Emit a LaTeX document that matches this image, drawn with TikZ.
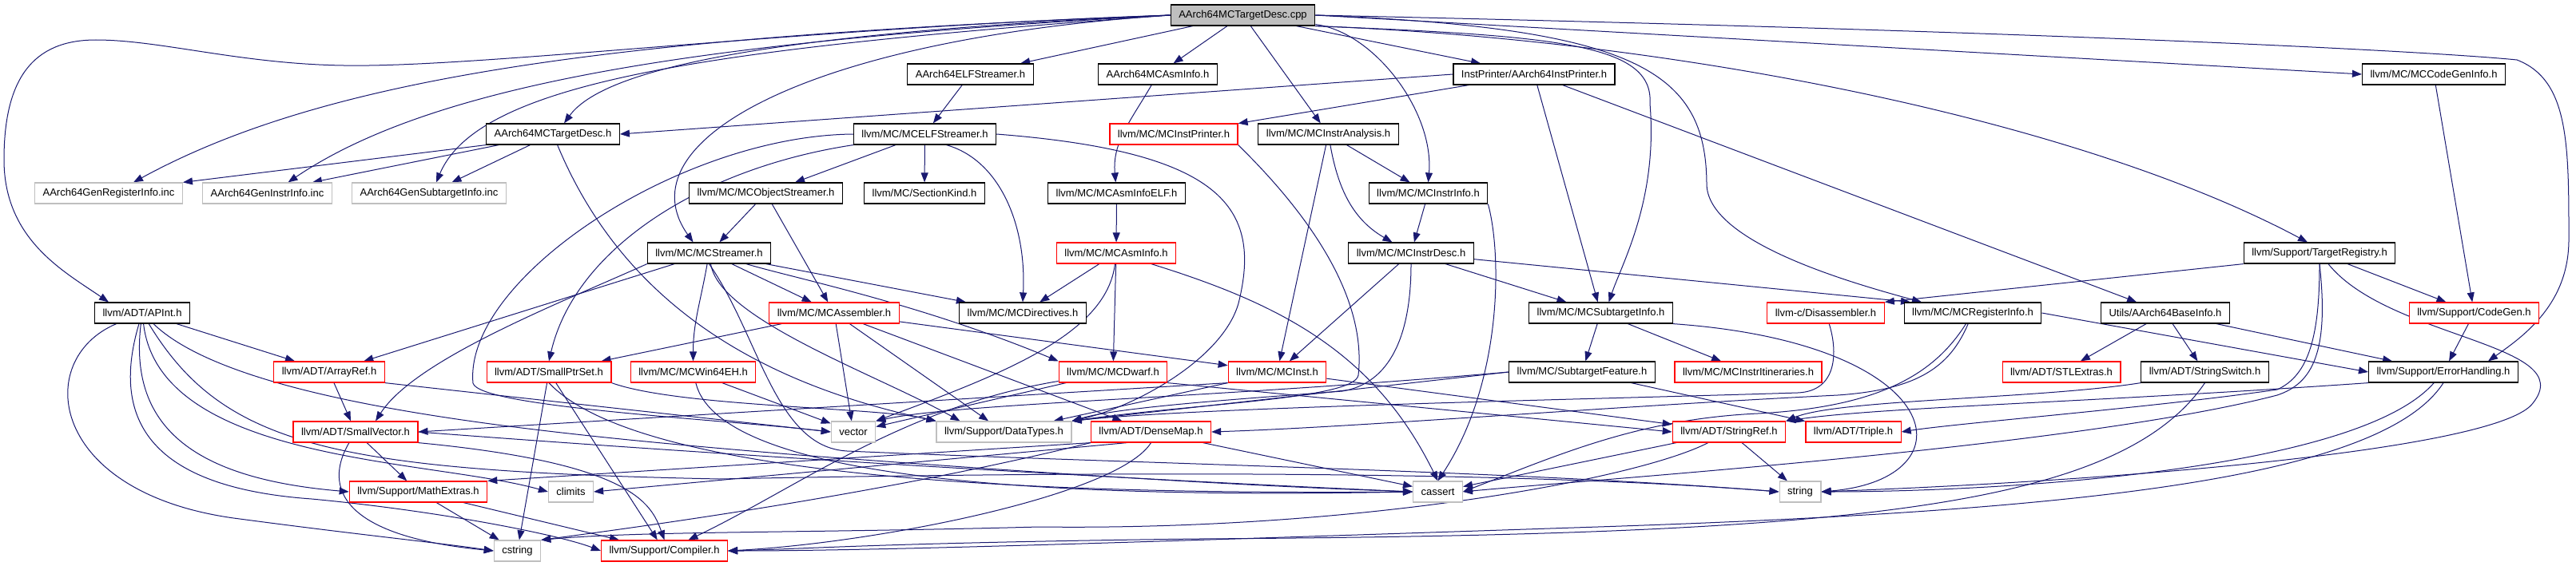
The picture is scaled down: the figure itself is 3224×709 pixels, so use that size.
\documentclass[tikz,border=0pt]{standalone}
\usepackage{fontspec}
\setmainfont{Liberation Sans}
\usepackage{xcolor}
\usepackage{tikz}
\usetikzlibrary{arrows.meta}
\definecolor{edgeblue}{HTML}{191970}
\pgfdeclarelayer{background}
\pgfsetlayers{background,main}

\begin{document}
\begin{tikzpicture}[
  x=1pt, y=-1pt,
  box/.style={draw, fill=white, line width=1.2pt, minimum height=26pt, inner xsep=10pt, inner ysep=0pt, font=\fontsize{13}{15}\selectfont},
  rootbox/.style={box, fill=gray!50},
  redbox/.style={box, draw=red},
  extbox/.style={box, draw=gray!50},
  dep/.style={draw=edgeblue, line width=1pt, -{Triangle[length=12pt,width=9pt]}}
]
  \useasboundingbox (0,0) rectangle (3224,709);

  \node[rootbox] (cpp) at (1555.5,19) {AArch64MCTargetDesc.cpp};
  \node[box] (elfstreamer) at (1214.5,93) {AArch64ELFStreamer.h};
  \node[box] (asminfo64) at (1449,93) {AArch64MCAsmInfo.h};
  \node[box] (instprinter64) at (1920,93) {InstPrinter/AArch64InstPrinter.h};
  \node[box] (codegeninfo) at (3046,93) {llvm/MC/MCCodeGenInfo.h};
  \node[box] (targetdesc) at (692,168) {AArch64MCTargetDesc.h};
  \node[box] (mcelf) at (1157.5,168) {llvm/MC/MCELFStreamer.h};
  \node[redbox] (instprinter) at (1469,168) {llvm/MC/MCInstPrinter.h};
  \node[box] (instranalysis) at (1662.5,168) {llvm/MC/MCInstrAnalysis.h};
  \node[extbox] (genreg) at (136,242) {AArch64GenRegisterInfo.inc};
  \node[extbox] (geninstr) at (334.5,242) {AArch64GenInstrInfo.inc};
  \node[extbox] (gensub) at (537,242) {AArch64GenSubtargetInfo.inc};
  \node[box] (objstreamer) at (958.5,242) {llvm/MC/MCObjectStreamer.h};
  \node[box] (sectionkind) at (1157,242) {llvm/MC/SectionKind.h};
  \node[box] (asminfoelf) at (1397.5,242) {llvm/MC/MCAsmInfoELF.h};
  \node[box] (instrinfo) at (1787.5,242) {llvm/MC/MCInstrInfo.h};
  \node[box] (streamer) at (887.5,317) {llvm/MC/MCStreamer.h};
  \node[redbox] (asminfo) at (1397,317) {llvm/MC/MCAsmInfo.h};
  \node[box] (instrdesc) at (1766,317) {llvm/MC/MCInstrDesc.h};
  \node[box] (targetreg) at (2903,317) {llvm/Support/TargetRegistry.h};
  \node[box] (apint) at (178,392) {llvm/ADT/APInt.h};
  \node[redbox] (assembler) at (1044,392) {llvm/MC/MCAssembler.h};
  \node[box] (directives) at (1280,392) {llvm/MC/MCDirectives.h};
  \node[box] (subtargetinfo) at (2003.5,392) {llvm/MC/MCSubtargetInfo.h};
  \node[redbox] (disassembler) at (2285,392) {llvm-c/Disassembler.h};
  \node[box] (reginfo) at (2469,392) {llvm/MC/MCRegisterInfo.h};
  \node[box] (baseinfo) at (2710,392) {Utils/AArch64BaseInfo.h};
  \node[redbox] (codegen) at (3096.5,392) {llvm/Support/CodeGen.h};
  \node[redbox] (arrayref) at (412,466) {llvm/ADT/ArrayRef.h};
  \node[redbox] (smallptrset) at (687,466) {llvm/ADT/SmallPtrSet.h};
  \node[redbox] (win64eh) at (867.5,466) {llvm/MC/MCWin64EH.h};
  \node[redbox] (dwarf) at (1393,466) {llvm/MC/MCDwarf.h};
  \node[redbox] (mcinst) at (1598.5,466) {llvm/MC/MCInst.h};
  \node[box] (subtargetfeature) at (1980,466) {llvm/MC/SubtargetFeature.h};
  \node[redbox] (itineraries) at (2188,466) {llvm/MC/MCInstrItineraries.h};
  \node[redbox] (stlextras) at (2580,466) {llvm/ADT/STLExtras.h};
  \node[box] (stringswitch) at (2759.5,466) {llvm/ADT/StringSwitch.h};
  \node[box] (errorhandling) at (3058,466) {llvm/Support/ErrorHandling.h};
  \node[redbox] (smallvector) at (445,541) {llvm/ADT/SmallVector.h};
  \node[extbox] (vector) at (1068,541) {vector};
  \node[extbox] (datatypes) at (1256.5,541) {llvm/Support/DataTypes.h};
  \node[redbox] (densemap) at (1440.5,541) {llvm/ADT/DenseMap.h};
  \node[redbox] (stringref) at (2164,541) {llvm/ADT/StringRef.h};
  \node[redbox] (triple) at (2319.5,541) {llvm/ADT/Triple.h};
  \node[redbox] (mathextras) at (523.5,616) {llvm/Support/MathExtras.h};
  \node[extbox] (climits) at (714.5,616) {climits};
  \node[extbox] (cassert) at (1799.5,616) {cassert};
  \node[extbox] (string) at (2253,616) {string};
  \node[extbox] (cstring) at (647.5,690) {cstring};
  \node[redbox] (compiler) at (831.5,690) {llvm/Support/Compiler.h};

  \begin{pgfonlayer}{background}
  \draw[dep] (cpp.west) .. controls (800,45) and (420,90) .. ([xshift=31pt]genreg.north);
  \draw[dep] (cpp.west) .. controls (900,50) and (550,100) .. ([xshift=26pt]geninstr.north);
  \draw[dep] (cpp.west) .. controls (900,60) and (600,100) .. ([xshift=9pt]gensub.north);
  \draw[dep] (cpp.west) .. controls (1000,40) and (760,80) .. ([xshift=14pt]targetdesc.north);
  \draw[dep] (cpp.west) .. controls (1000,35) and (600,85) .. (430,82) .. controls (300,80) and (200,50) .. (120,50) .. controls (40,50) and (5,100) .. (5,200) .. controls (5,300) and (80,340) .. ([xshift=-42pt]apint.north);
  \draw[dep] (cpp.west) .. controls (1000,50) and (780,180) .. ([xshift=-20pt]streamer.north);
  \draw[dep] (cpp) -- (elfstreamer);
  \draw[dep] (cpp) -- (asminfo64);
  \draw[dep] (cpp) -- (instranalysis);
  \draw[dep] (cpp) .. controls (1720,40) and (1795,140) .. (instrinfo.north);
  \draw[dep] (cpp) -- (instprinter64);
  \draw[dep] (cpp.south east) .. controls (1950,45) and (2070,55) .. (2065,130) .. controls (2075,250) and (2030,330) .. ([xshift=10pt]subtargetinfo.north);
  \draw[dep] (cpp.east) .. controls (2050,35) and (2135,90) .. (2136,230) .. controls (2136,300) and (2300,350) .. ([xshift=-64pt]reginfo.north);
  \draw[dep] (cpp.south east) .. controls (2100,50) and (2600,150) .. ([xshift=-15pt]targetreg.north);
  \draw[dep] (cpp.east) -- (codegeninfo.west);
  \draw[dep] (cpp.east) .. controls (2600,40) and (3050,65) .. (3150,75) .. controls (3215,100) and (3215,180) .. (3215,300) .. controls (3215,380) and (3160,420) .. ([xshift=56pt]errorhandling.north);

  \draw[dep] (targetdesc.south west) -- (genreg.north east);
  \draw[dep] (targetdesc) -- ([xshift=-25pt]geninstr.north east);
  \draw[dep] (targetdesc) -- (gensub);
  \draw[dep] (targetdesc) .. controls (780,380) and (950,480) .. (datatypes.north west);

  \draw[dep] (elfstreamer) -- (mcelf);
  \draw[dep] (asminfo64) to[out=240,in=95] (asminfoelf);
  \draw[dep] (instprinter64.west) -- (targetdesc.east);
  \draw[dep] (instprinter64) -- (instprinter);
  \draw[dep] (instprinter64) -- (subtargetinfo);
  \draw[dep] (instprinter64) -- (baseinfo);
  \draw[dep] (codegeninfo) -- (codegen);

  \draw[dep] (mcelf.south west) .. controls (880,210) and (720,310) .. (smallptrset.north);
  \draw[dep] (mcelf.west) .. controls (850,170) and (580,350) .. (592,480) .. controls (600,510) and (900,525) .. (vector.west);
  \draw[dep] (mcelf) -- (objstreamer);
  \draw[dep] (mcelf) -- (sectionkind);
  \draw[dep] ([xshift=27pt]mcelf.south) .. controls (1250,200) and (1285,280) .. (directives.north);
  \draw[dep] (mcelf.east) .. controls (1530,190) and (1580,260) .. (1550,380) .. controls (1530,450) and (1420,510) .. (datatypes.north east);
  \draw[dep] (instprinter.south east) .. controls (1650,280) and (1710,380) .. (1700,470) .. controls (1695,500) and (1500,505) .. (datatypes.north east);
  \draw[dep] (instranalysis) -- (mcinst);
  \draw[dep] (instranalysis) to[out=-80,in=150] (instrdesc);
  \draw[dep] (instranalysis) -- (instrinfo);

  \draw[dep] (objstreamer) -- (streamer);
  \draw[dep] (objstreamer) -- (assembler);
  \draw[dep] (asminfoelf) -- (asminfo);
  \draw[dep] (instrinfo) -- (instrdesc);
  \draw[dep] (instrinfo.south east) .. controls (1880,320) and (1880,480) .. (cassert.north);

  \draw[dep] (streamer) -- (arrayref);
  \draw[dep] (streamer.south west) .. controls (700,380) and (520,450) .. ([xshift=25pt]smallvector.north);
  \draw[dep] (streamer) -- (assembler);
  \draw[dep] (streamer) -- (directives);
  \draw[dep] (streamer) .. controls (1000,350) and (1150,380) .. (dwarf.north west);
  \draw[dep] (streamer) to[out=-100,in=90] (win64eh);
  \draw[dep] (streamer) .. controls (900,400) and (1100,470) .. ([xshift=-55pt]datatypes.north);
  \draw[dep] (streamer.south) .. controls (950,420) and (970,560) .. (1060,565) .. controls (1400,580) and (1900,590) .. (string.west);

  \draw[dep] (asminfo) -- (directives);
  \draw[dep] (asminfo) -- (dwarf);
  \draw[dep] (asminfo) .. controls (1385,420) and (1250,470) .. (vector.north east);
  \draw[dep] (asminfo) .. controls (1600,380) and (1720,440) .. (cassert.north);

  \draw[dep] (instrdesc) -- (mcinst);
  \draw[dep] (instrdesc) -- (subtargetinfo);
  \draw[dep] (instrdesc) -- ([xshift=-78pt]reginfo.north);
  \draw[dep] (instrdesc.south) .. controls (1766,420) and (1740,480) .. (1680,490) .. controls (1550,500) and (1400,510) .. (datatypes.north east);

  \draw[dep] (targetreg.south west) -- (disassembler.north east);
  \draw[dep] (targetreg.south) .. controls (2903,420) and (2890,470) .. (2850,488) .. controls (2700,510) and (2450,530) .. (triple.east);
  \draw[dep] (targetreg) -- (codegen);
  \draw[dep] (targetreg.south) .. controls (2915,440) and (2895,480) .. (2850,495) .. controls (2600,560) and (2000,600) .. (cassert.east);
  \draw[dep] (targetreg) .. controls (2990,425) and (3230,430) .. (3170,505) .. controls (3130,560) and (2700,600) .. (string.east);

  \draw[dep] (apint) -- (arrayref);
  \draw[dep] (apint) .. controls (160,540) and (250,600) .. (mathextras.west);
  \draw[dep] (apint) .. controls (200,580) and (540,575) .. (climits.west);
  \draw[dep] (apint) .. controls (40,450) and (60,620) .. (300,650) .. controls (450,670) and (550,680) .. (cstring.west);
  \draw[dep] (apint) .. controls (140,520) and (180,610) .. (390,625) .. controls (550,640) and (700,670) .. (compiler.west);
  \draw[dep] (apint) .. controls (280,560) and (420,590) .. (900,600) .. controls (1400,590) and (1900,590) .. (string.west);
  \draw[dep] (apint) .. controls (300,510) and (700,545) .. (1000,570) .. controls (1400,600) and (1600,610) .. (cassert.west);

  \draw[dep] (arrayref) -- (smallvector);
  \draw[dep] (arrayref.south east) -- (vector.west);
  \draw[dep] (smallptrset) -- (cstring);
  \draw[dep] (smallptrset) -- (compiler);
  \draw[dep] (smallptrset.south east) .. controls (850,510) and (1100,510) .. (datatypes.north west);
  \draw[dep] (smallptrset.south) .. controls (800,600) and (1300,620) .. (cassert.west);
  \draw[dep] (win64eh) -- (vector);
  \draw[dep] (win64eh) .. controls (900,600) and (1300,625) .. (cassert.west);

  \draw[dep] (assembler) -- (smallptrset);
  \draw[dep] (assembler) -- (vector);
  \draw[dep] (assembler) -- (datatypes);
  \draw[dep] (assembler) -- (densemap);
  \draw[dep] (assembler) -- (mcinst);

  \draw[dep] (dwarf) -- (vector);
  \draw[dep] (dwarf) .. controls (1130,510) and (1000,610) .. ([xshift=30pt]compiler.north);
  \draw[dep] (dwarf.south east) -- (stringref.west);
  \draw[dep] (mcinst.south west) -- (smallvector.east);
  \draw[dep] (mcinst) -- (stringref);
  \draw[dep] (mcinst) -- (datatypes);

  \draw[dep] (subtargetinfo) -- (subtargetfeature);
  \draw[dep] (subtargetinfo) -- (itineraries);
  \draw[dep] (subtargetinfo.south east) .. controls (2440,430) and (2470,600) .. (string.east);
  \draw[dep] (subtargetfeature) -- (triple);
  \draw[dep] (subtargetfeature.west) -- (datatypes.north east);
  \draw[dep] (subtargetfeature.west) .. controls (1500,500) and (1200,505) .. (vector.north east);
  \draw[dep] (disassembler) .. controls (2300,440) and (2300,490) .. (2250,492) .. controls (2000,500) and (1500,510) .. (datatypes.north east);

  \draw[dep] (reginfo) .. controls (2440,460) and (2400,488) .. (2300,495) .. controls (2000,510) and (1700,535) .. (densemap.east);
  \draw[dep] (reginfo) .. controls (2420,470) and (2350,510) .. (2200,518) .. controls (2050,525) and (1950,570) .. (cassert.east);
  \draw[dep] (reginfo.east) -- (errorhandling.west);
  \draw[dep] (baseinfo) -- (stlextras);
  \draw[dep] (baseinfo) -- (stringswitch);
  \draw[dep] (baseinfo) -- (errorhandling);
  \draw[dep] (codegen) -- (errorhandling);

  \draw[dep] (stringswitch.south west) .. controls (2550,500) and (2300,500) .. (stringref.north east);
  \draw[dep] (stringswitch.south) .. controls (2650,640) and (2300,670) .. (1500,675) .. controls (1100,680) and (1000,688) .. (compiler.east);
  \draw[dep] (errorhandling.south west) .. controls (2600,505) and (2350,510) .. (stringref.north east);
  \draw[dep] (errorhandling.south) .. controls (2980,600) and (2600,640) .. (2000,660) .. controls (1400,680) and (1100,690) .. (compiler.east);
  \draw[dep] (errorhandling) .. controls (2950,590) and (2500,616) .. (string.east);

  \draw[dep] (stringref) -- (cassert);
  \draw[dep] (stringref) .. controls (2050,600) and (1700,665) .. (1300,660) .. controls (1000,668) and (800,665) .. (cstring.north east);
  \draw[dep] (stringref) -- (string);

  \draw[dep] (smallvector) -- (mathextras);
  \draw[dep] (smallvector) .. controls (410,600) and (410,670) .. (cstring.west);
  \draw[dep] (smallvector.south east) .. controls (790,580) and (815,630) .. (compiler.north);
  \draw[dep] (smallvector.east) .. controls (900,570) and (1400,600) .. (cassert.west);
  \draw[dep] (mathextras) -- (cstring);
  \draw[dep] (mathextras) -- (compiler);

  \draw[dep] (densemap.south west) -- (mathextras.north east);
  \draw[dep] ([xshift=-30pt]densemap.south) -- (climits.east);
  \draw[dep] (densemap.south) .. controls (1400,620) and (1100,680) .. (compiler.east);
  \draw[dep] (densemap.south west) .. controls (1100,620) and (800,660) .. (cstring.north east);
  \draw[dep] (densemap) -- (cassert);
  \end{pgfonlayer}
\end{tikzpicture}
\end{document}
